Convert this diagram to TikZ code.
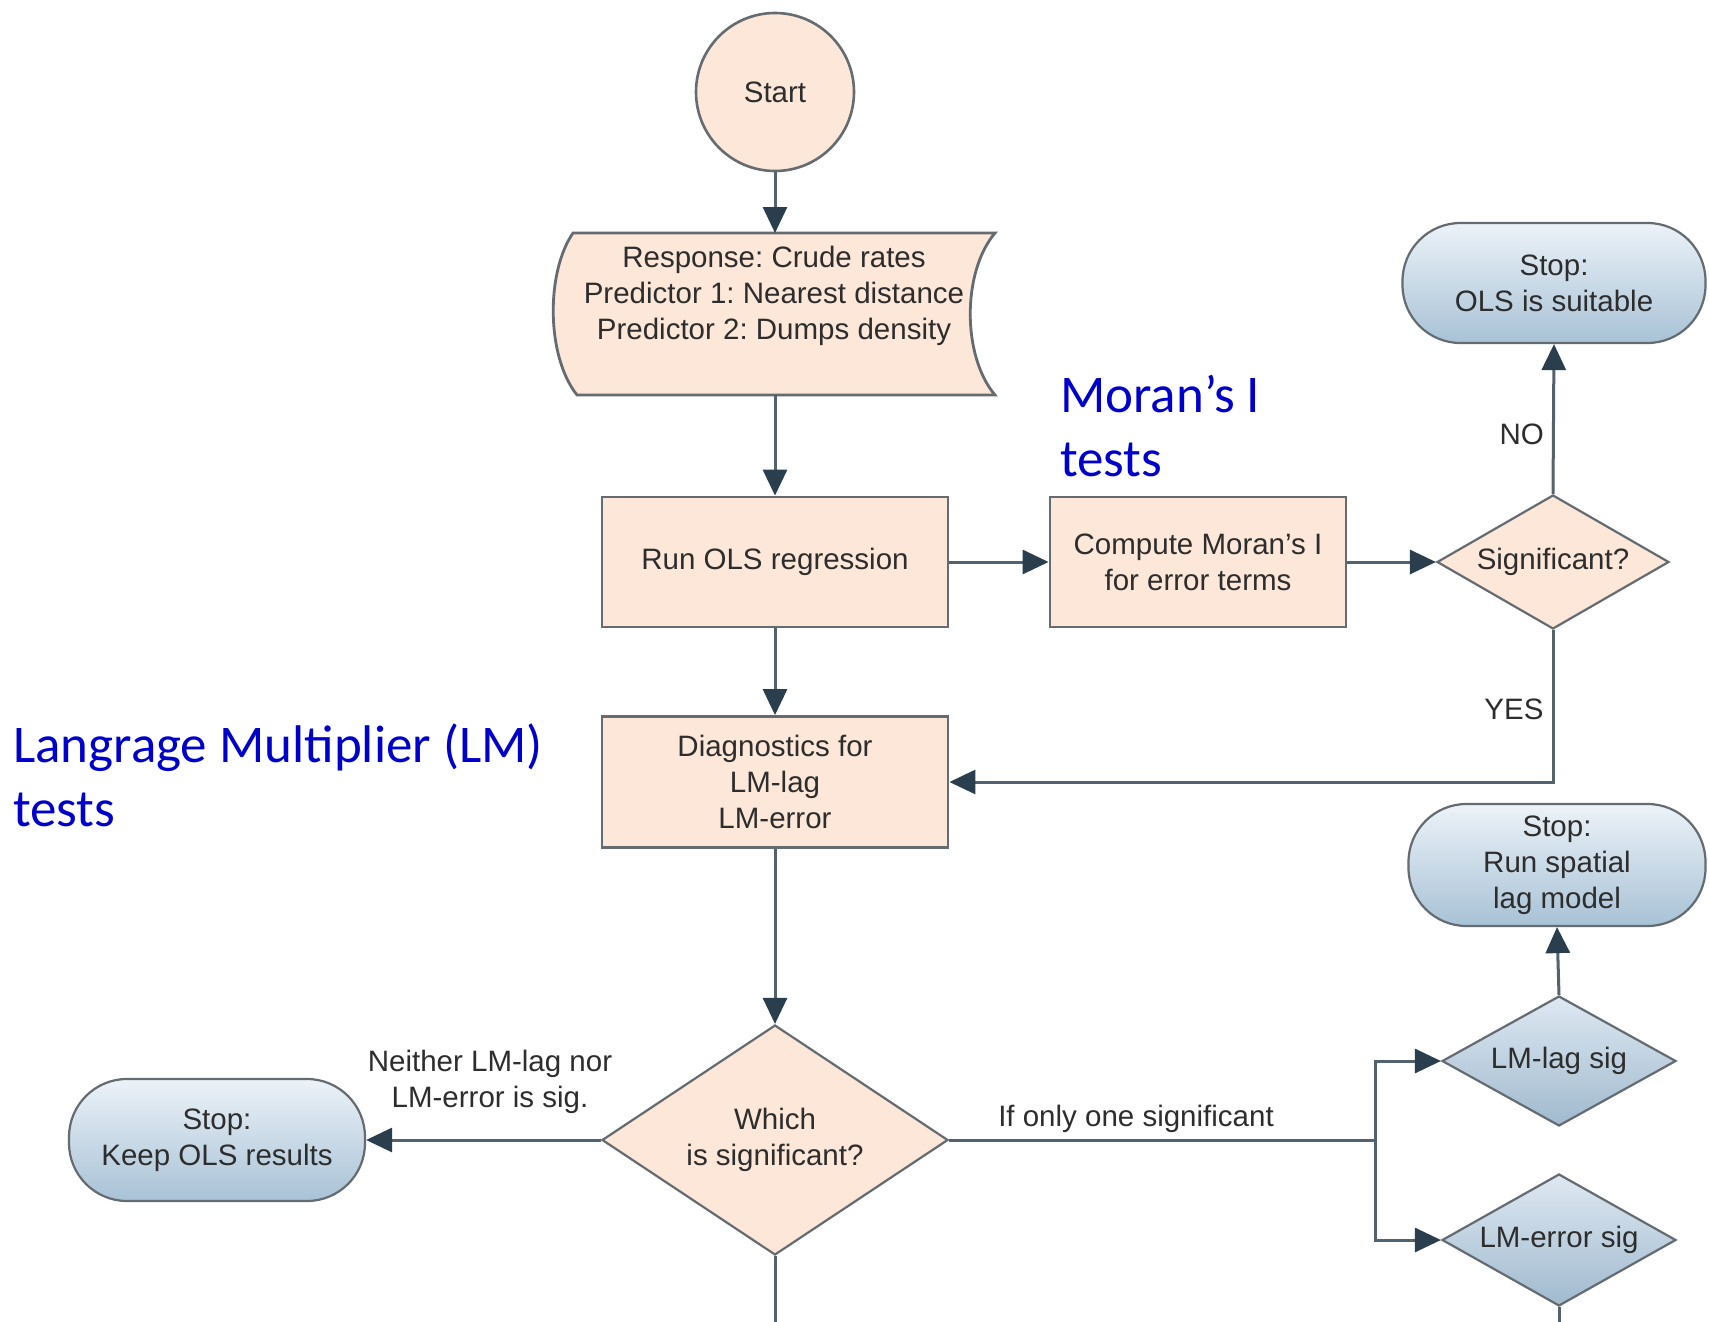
\documentclass[tikz,border=0pt]{standalone}
\usepackage{fontspec}
\setmainfont{Liberation Sans}
\newfontfamily\calib{Carlito}
\usetikzlibrary{arrows.meta,shapes.geometric}
\frenchspacing
\definecolor{peach}{RGB}{252,231,216}
\definecolor{bordergray}{RGB}{100,107,113}
\definecolor{linecol}{RGB}{82,98,110}
\definecolor{headcol}{RGB}{42,62,78}
\definecolor{txtgray}{RGB}{45,45,45}
\definecolor{bluetop}{RGB}{236,242,248}
\definecolor{bluebot}{RGB}{168,194,214}
\definecolor{dtop}{RGB}{222,232,242}
\definecolor{dbot}{RGB}{160,186,206}
\definecolor{annot}{RGB}{0,0,204}
\begin{document}
\begin{tikzpicture}[x=1pt,y=-1pt,
  every node/.style={text=txtgray,font=\fontsize{29.5}{36}\selectfont},
  procbox/.style={draw=bordergray,line width=2.8pt,fill=peach,rectangle,inner sep=0pt,align=center},
  stopbox/.style={draw=bordergray,line width=2.2pt,rectangle,rounded corners=58pt,inner sep=0pt,align=center,top color=bluetop,bottom color=bluebot},
  decpeach/.style={draw=bordergray,line width=2.2pt,diamond,fill=peach,inner sep=0pt},
  decblue/.style={draw=bordergray,line width=2.2pt,diamond,inner sep=0pt,top color=dtop,bottom color=dbot},
  conn/.style={draw=linecol,line width=3pt},
  arr/.style={conn,-{Triangle[length=26pt,width=24pt,fill=headcol,color=headcol]}},
  lbl/.style={align=center,inner sep=0pt},
  annotxt/.style={text=annot,font=\calib\fontsize{53}{64}\selectfont,align=left,inner sep=0pt,anchor=base west}
]
\useasboundingbox (0,0) rectangle (1709,1322);
\fill[white] (0,0) rectangle (1709,1322);

% Start
\node[circle,draw=bordergray,line width=2.6pt,fill=peach,minimum size=158pt,inner sep=0pt] (start) at (775,92) {Start};

% Stored-data shape
\coordinate (tapeN) at (775,233);
\coordinate (tapeS) at (775,395);
\filldraw[draw=bordergray,line width=2.8pt,fill=peach]
  (573,233) -- (995,233) .. controls (962,272) and (962,356) .. (995,395)
  -- (577,395) .. controls (546,356) and (546,272) .. (573,233) -- cycle;
\node[lbl] (tapetext) at (774,296) {Response: Crude rates\\Predictor 1: Nearest distance\\Predictor 2: Dumps density};

% Boxes
\node[procbox,minimum width=346pt,minimum height=130pt] (run) at (775,562) {Run OLS regression};
\node[procbox,minimum width=296pt,minimum height=130pt] (moran) at (1198,562) {Compute Moran's I\\for error terms};
\node[procbox,minimum width=346pt,minimum height=131pt] (diag) at (775,782) {Diagnostics for\\LM-lag\\LM-error};

% Decisions
\node[decpeach,minimum width=232pt,minimum height=134pt,label={[lbl]center:Significant?}] (sig) at (1553,562) {};
\node[decpeach,minimum width=346pt,minimum height=230pt,label={[lbl]center:Which\\is significant?}] (which) at (775,1140) {};
\node[decblue,minimum width=234pt,minimum height=130pt,label={[lbl]center:LM-lag sig}] (lmlag) at (1559,1061) {};
\node[decblue,minimum width=234pt,minimum height=132pt,label={[lbl]center:LM-error sig}] (lmerr) at (1559,1240) {};

% Stops
\node[stopbox,minimum width=303pt,minimum height=120pt] (stopols) at (1554,283) {Stop:\\OLS is suitable};
\node[stopbox,minimum width=297pt,minimum height=122pt] (stoplag) at (1557,865) {Stop:\\Run spatial\\lag model};
\node[stopbox,minimum width=296pt,minimum height=122pt] (stopkeep) at (217,1140) {Stop:\\Keep OLS results};

% Connectors
\draw[arr] (start.south) -- (tapeN);
\draw[arr] (tapeS) -- (run.north);
\draw[arr] (run.east) -- (moran.west);
\draw[arr] (moran.east) -- (sig.west);
\draw[arr] (sig.north) -- node[lbl,pos=0.4,left=8pt] {NO} (stopols.south);
\draw[arr] (sig.south) -- node[lbl,pos=0.52,left=8pt] {YES} (sig.south |- diag.east) -- (diag.east);
\draw[arr] (run.south) -- (diag.north);
\draw[arr] (diag.south) -- (which.north);
\draw[arr] (which.west) -- (stopkeep.east);
\coordinate (br) at (1375,1140);
\draw[conn] (which.east) -- (br);
\draw[arr] (br) |- (lmlag.west);
\draw[arr] (br) |- (lmerr.west);
\draw[arr] (lmlag.north) -- (stoplag.south);
\coordinate (bot1) at (775,1322);
\coordinate (bot2) at (1559,1322);
\draw[conn] (which.south) -- (bot1);
\draw[conn] (lmerr.south) -- (bot2);

% Edge labels
\node[lbl] (neither) at (490,1082) {Neither LM-lag nor\\LM-error is sig.};
\node[lbl] (ifonly) at (1136,1119) {If only one significant};

% Annotations
\node[annotxt] (moranlbl) at (1060,412) {Moran’s I};
\node[annotxt] (morantests) at (1060,476) {tests};
\node[annotxt] (lmlbl) at (13,762) {Langrage Multiplier (LM)};
\node[annotxt] (lmtests) at (13,826) {tests};
\end{tikzpicture}
\end{document}
